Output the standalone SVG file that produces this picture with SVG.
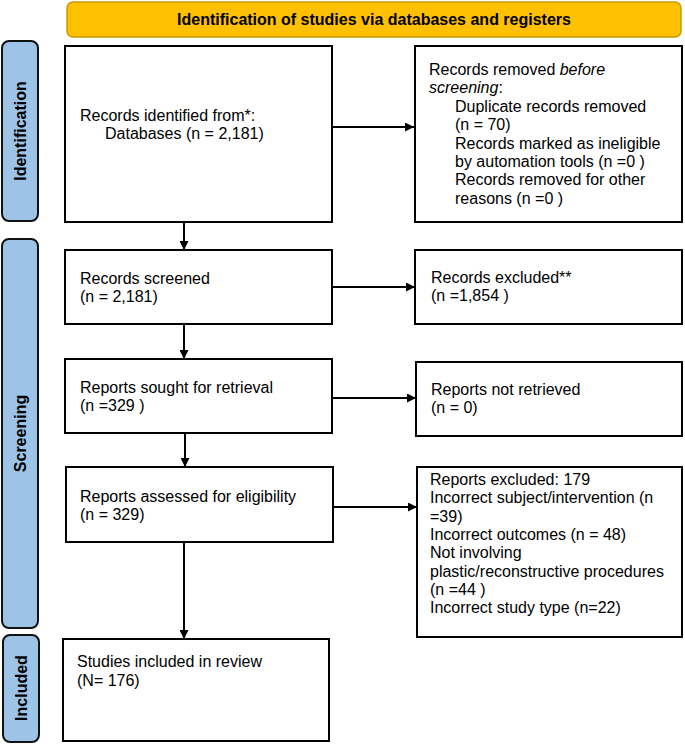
<svg xmlns="http://www.w3.org/2000/svg" width="685" height="744" viewBox="0 0 685 744">
<defs>
<style>
.box{fill:#fff;stroke:#000;stroke-width:2}
.side{fill:#9DC3E6;stroke:#111;stroke-width:2}
.banner{fill:#FFC000;stroke:#C99A00;stroke-width:1.5}
.t{font-family:"Liberation Sans",Arial,sans-serif;font-size:16px;fill:#000}
.b{font-family:"Liberation Sans",Arial,sans-serif;font-size:16px;font-weight:bold;fill:#000}
.con{stroke:#000;stroke-width:2;fill:none;marker-end:url(#ah)}
</style>
<marker id="ah" viewBox="0 0 10 10" refX="10" refY="5" markerWidth="9" markerHeight="9" markerUnits="userSpaceOnUse" orient="auto">
<path d="M0,0 L10,5 L0,10 z" fill="#000"/>
</marker>
</defs>
<rect width="685" height="744" fill="#fff"/>

<g id="banner">
<rect class="banner" x="67" y="2" width="614" height="35" rx="6"/>
<text class="b" x="374" y="25" text-anchor="middle">Identification of studies via databases and registers</text>
</g>

<g id="side-identification">
<rect class="side" x="2" y="41" width="36" height="180" rx="7"/>
<text class="b" transform="translate(25.5,131) rotate(-90)" text-anchor="middle">Identification</text>
</g>
<g id="side-screening">
<rect class="side" x="2" y="239" width="36" height="389" rx="7"/>
<text class="b" transform="translate(25.5,433.5) rotate(-90)" text-anchor="middle">Screening</text>
</g>
<g id="side-included">
<rect class="side" x="3" y="635" width="36" height="107" rx="7"/>
<text class="b" transform="translate(26.5,688) rotate(-90)" text-anchor="middle">Included</text>
</g>

<g id="connectors">
<line class="con" x1="332" y1="127" x2="414" y2="127"/>
<line class="con" x1="184" y1="222" x2="184" y2="250"/>
<line class="con" x1="332" y1="287" x2="415" y2="287"/>
<line class="con" x1="184" y1="324" x2="184" y2="359"/>
<line class="con" x1="333" y1="398" x2="416" y2="398"/>
<line class="con" x1="185" y1="433" x2="185" y2="467"/>
<line class="con" x1="334" y1="507" x2="417" y2="507"/>
<line class="con" x1="184" y1="542" x2="184" y2="639"/>
</g>

<g id="records-identified">
<rect class="box" x="65" y="46" width="267" height="176"/>
<text class="t" x="80" y="121">Records identified from*:</text>
<text class="t" x="105" y="139">Databases (n = 2,181)</text>
</g>

<g id="records-removed">
<rect class="box" x="415" y="46" width="267" height="176"/>
<text class="t" x="429" y="75">Records removed <tspan font-style="italic">before</tspan></text>
<text class="t" x="429" y="93.4"><tspan font-style="italic">screening</tspan>:</text>
<text class="t" x="455" y="111.8">Duplicate records removed</text>
<text class="t" x="455" y="130.2">(n = 70)</text>
<text class="t" x="455" y="148.6">Records marked as ineligible</text>
<text class="t" x="455" y="167">by automation tools (n =0 )</text>
<text class="t" x="455" y="185.4">Records removed for other</text>
<text class="t" x="455" y="203.8">reasons (n =0 )</text>
</g>

<g id="records-screened">
<rect class="box" x="65" y="250" width="267" height="74"/>
<text class="t" x="80" y="284">Records screened</text>
<text class="t" x="80" y="302">(n = 2,181)</text>
</g>

<g id="records-excluded">
<rect class="box" x="415" y="250" width="267" height="74"/>
<text class="t" x="431" y="283">Records excluded**</text>
<text class="t" x="431" y="301">(n =1,854 )</text>
</g>

<g id="reports-sought">
<rect class="box" x="65" y="359" width="267" height="74"/>
<text class="t" x="80" y="393">Reports sought for retrieval</text>
<text class="t" x="80" y="411">(n =329 )</text>
</g>

<g id="reports-not-retrieved">
<rect class="box" x="416" y="362" width="266" height="74"/>
<text class="t" x="431" y="395">Reports not retrieved</text>
<text class="t" x="431" y="413">(n = 0)</text>
</g>

<g id="reports-assessed">
<rect class="box" x="66" y="467" width="267" height="75"/>
<text class="t" x="80" y="502">Reports assessed for eligibility</text>
<text class="t" x="80" y="520">(n = 329)</text>
</g>

<g id="reports-excluded">
<rect class="box" x="417" y="467" width="265" height="170"/>
<text class="t" x="430" y="485">Reports excluded: 179</text>
<text class="t" x="430" y="503.3">Incorrect subject/intervention (n</text>
<text class="t" x="430" y="521.6">=39)</text>
<text class="t" x="430" y="540">Incorrect outcomes (n = 48)</text>
<text class="t" x="430" y="558.3">Not involving</text>
<text class="t" x="430" y="576.6">plastic/reconstructive procedures</text>
<text class="t" x="430" y="595">(n =44 )</text>
<text class="t" x="430" y="613.3">Incorrect study type (n=22)</text>
</g>

<g id="studies-included">
<rect class="box" x="63" y="639" width="266" height="102"/>
<text class="t" x="77" y="667">Studies included in review</text>
<text class="t" x="77" y="686">(N= 176)</text>
</g>
</svg>
